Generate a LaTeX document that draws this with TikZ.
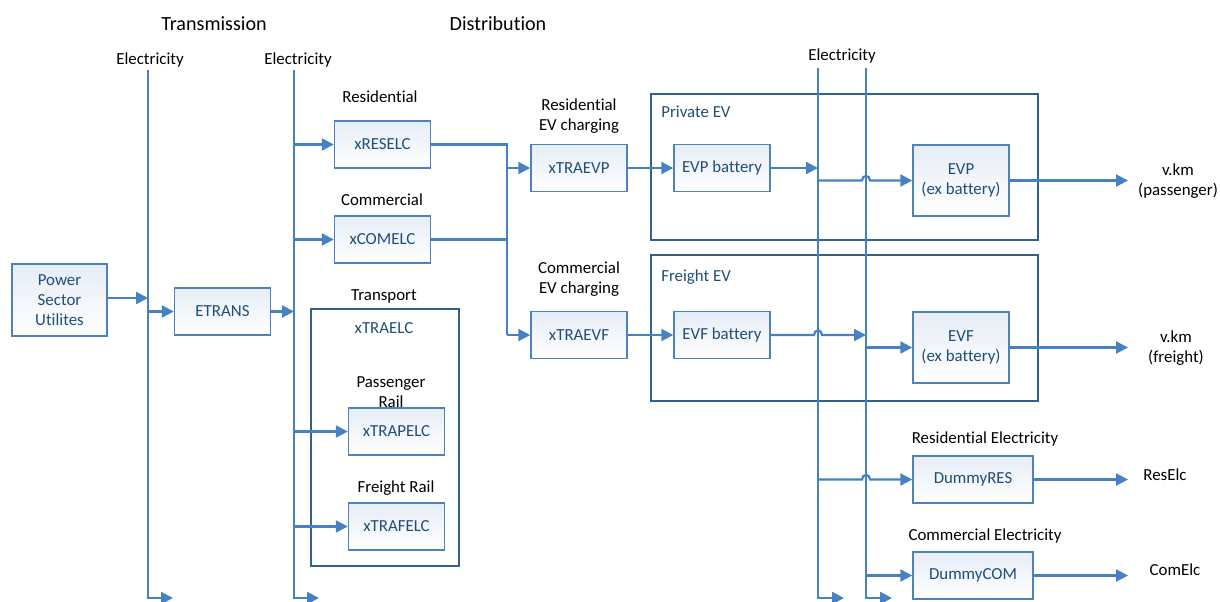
\documentclass[tikz,border=0pt]{standalone}
\usepackage{fontspec}
\setmainfont[Ligatures=NoCommon]{Carlito}
\usetikzlibrary{arrows.meta}
\definecolor{ln}{RGB}{70,130,195}
\definecolor{bx}{RGB}{79,129,189}
\definecolor{bbx}{RGB}{52,96,140}
\definecolor{tx}{RGB}{31,78,121}
\definecolor{shd}{RGB}{230,237,246}
\begin{document}
\begin{tikzpicture}[x=0.025cm,y=-0.025cm,
 conn/.style={draw=ln, line width=1.6pt},
 arr/.style={conn, -{Triangle[length=8.5pt,width=8.5pt]}},
 box/.style={draw=bx, line width=1pt, top color=shd, bottom color=white, text=tx,
   font=\fontsize{12}{14.4}\selectfont, align=center, minimum width=2.4cm,
   minimum height=1.175cm, inner sep=0pt},
 bigbox/.style={draw=bbx, line width=1.1pt, inner sep=0pt},
 lbl/.style={font=\fontsize{12}{14}\selectfont, align=center, inner sep=0pt},
 ttl/.style={font=\fontsize{14.3}{17}\selectfont, inner sep=0pt},
 blbl/.style={lbl, text=tx},
]
\useasboundingbox (0,0) rectangle (1220,601);

% titles
\node[ttl] (tT) at (214,24) {Transmission};
\node[ttl] (tD) at (498,24) {Distribution};
\node[lbl] (el1) at (150,60) {Electricity};
\node[lbl] (el2) at (298,60) {Electricity};
\node[lbl] (el3) at (842,56) {Electricity};

% big boxes
\node[bigbox, minimum width=3.7cm, minimum height=6.425cm] (trans) at (385,437.5) {};
\node[bigbox, minimum width=9.675cm, minimum height=3.65cm] (pev) at (844.5,167) {};
\node[bigbox, minimum width=9.675cm, minimum height=3.65cm] (fev) at (844.5,328) {};
\node[blbl, anchor=west] (pevl) at (661,112) {Private EV};
\node[blbl, anchor=west] (fevl) at (661,277) {Freight EV};
\node[blbl] (traelc) at (384,328) {xTRAELC};

% boxes
\node[box, minimum width=2.375cm, minimum height=1.8cm] (psu) at (59.5,300) {Power\\Sector\\Utilites};
\node[box] (etrans) at (222.5,311.5) {ETRANS};
\node[box] (xres) at (382.5,144.5) {xRESELC};
\node[box] (xcom) at (382.5,239.5) {xCOMELC};
\node[box] (xtrap) at (396.5,431.5) {xTRAPELC};
\node[box] (xtraf) at (396.5,526.5) {xTRAFELC};
\node[box] (xevp) at (579,168) {xTRAEVP};
\node[box] (xevf) at (579,335) {xTRAEVF};
\node[box] (evpb) at (722,168) {EVP battery};
\node[box] (evfb) at (722,335) {EVF battery};
\node[box, minimum height=1.775cm] (evp) at (961,180.5) {EVP\\(ex battery)};
\node[box, minimum height=1.775cm] (evf) at (961,347.5) {EVF\\(ex battery)};
\node[box, minimum width=3cm] (dres) at (973,479.5) {DummyRES};
\node[box, minimum width=3cm] (dcom) at (973,575.5) {DummyCOM};

% labels
\node[lbl] (lres) at (380,97) {Residential};
\node[lbl] (lcom) at (382,200) {Commercial};
\node[lbl] (ltra) at (384,296) {Transport};
\node[lbl] (lpr) at (391,392) {Passenger\\Rail};
\node[lbl] (lfr) at (396,488) {Freight Rail};
\node[lbl] (lrevc) at (579,116) {Residential\\EV charging};
\node[lbl] (lcevc) at (579,279) {Commercial\\EV charging};
\node[lbl] (lrese) at (985,439) {Residential Electricity};
\node[lbl] (lcome) at (985,536) {Commercial Electricity};
\node[lbl] (opas) at (1178,181) {v.km\\(passenger)};
\node[lbl] (ofre) at (1176,348) {v.km\\(freight)};
\node[lbl] (ores) at (1165,475) {ResElc};
\node[lbl] (ocom) at (1175,570) {ComElc};

% bus lines
\coordinate (e1) at (148,70);
\coordinate (e2) at (294,70);
\coordinate (e3) at (818,68);
\coordinate (e4) at (866,68);
\coordinate (b1) at (148,598);
\coordinate (b2) at (294,598);
\coordinate (b3) at (818,598);
\coordinate (b4) at (866,598);
\draw[arr] (e1) -- (b1) -- ++(25,0);
\draw[arr] (e2) -- (b2) -- ++(25,0);
\draw[arr] (e3) -- (b3) -- ++(26,0);
\draw[arr] (e4) -- (b4) -- ++(26,0);

% transmission
\draw[arr] (psu.east |- 0,298) -- (e1 |- 0,298);
\draw[arr] (e1 |- etrans) -- (etrans.west);
\draw[arr] (etrans.east) -- (e2 |- etrans);

% distribution
\draw[arr] (e2 |- xres) -- (xres.west);
\draw[arr] (e2 |- xcom) -- (xcom.west);
\draw[arr] (e2 |- xtrap) -- (xtrap.west);
\draw[arr] (e2 |- xtraf) -- (xtraf.west);

% EV charging junction
\coordinate (j1) at (507,144.5);
\coordinate (j2) at (507,335);
\draw[conn] (xres.east) -- (j1) -- (j2);
\draw[conn] (xcom.east) -- (xcom.east -| j1);
\draw[arr] (j1 |- xevp) -- (xevp.west);
\draw[arr] (j2) -- (xevf.west);

\draw[arr] (xevp.east) -- (evpb.west);
\draw[arr] (xevf.east) -- (evfb.west);
\draw[arr] (evpb.east) -- (e3 |- evpb);
\draw[arr] (evfb.east) -- (814,335) .. controls (814,329) and (822,329) .. (822,335) -- (e4 |- evfb);

\draw[arr] (e3 |- evp) -- (862,180.5) .. controls (862,174.5) and (870,174.5) .. (870,180.5) -- (evp.west);
\draw[arr] (e4 |- evf) -- (evf.west);
\draw[arr] (e3 |- dres) -- (862,479.5) .. controls (862,473.5) and (870,473.5) .. (870,479.5) -- (dres.west);
\draw[arr] (e4 |- dcom) -- (dcom.west);

% outputs
\coordinate (o1) at (1128,180.5);
\coordinate (o2) at (1128,347.5);
\coordinate (o3) at (1128,479.5);
\coordinate (o4) at (1128,575.5);
\draw[arr] (evp.east) -- (o1);
\draw[arr] (evf.east) -- (o2);
\draw[arr] (dres.east) -- (o3);
\draw[arr] (dcom.east) -- (o4);
\end{tikzpicture}
\end{document}
